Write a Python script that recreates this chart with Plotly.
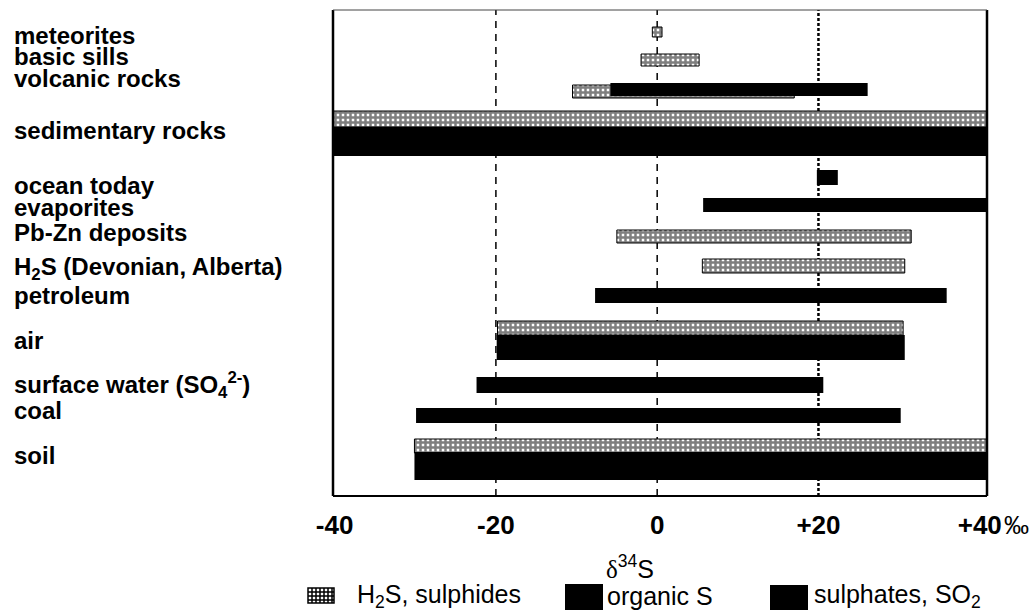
import plotly.graph_objects as go

# ---- data: delta-34S ranges (permil) per reservoir ----
rows = [
    "meteorites", "basic sills", "volcanic rocks", "sedimentary rocks",
    "ocean today", "evaporites", "Pb-Zn deposits", "H<sub>2</sub>S (Devonian, Alberta)",
    "petroleum", "air", "surface water (SO<sub>4</sub><sup>2-</sup>)", "coal", "soil",
]

sulphide_rows = ["meteorites", "basic sills", "volcanic rocks", "sedimentary rocks",
                 "Pb-Zn deposits", "H<sub>2</sub>S (Devonian, Alberta)", "air", "soil"]
sulphide_lo = [-0.6, -2.0, -10.5, -41.0, -5.0, 5.6, -19.8, -30.1]
sulphide_hi = [0.6, 5.2, 17.0, 42.0, 31.5, 30.7, 30.5, 42.0]

organic_rows = ["sedimentary rocks", "petroleum", "coal", "soil"]
organic_lo = [-41.0, -7.7, -29.9, -30.1]
organic_hi = [42.0, 35.9, 30.2, 42.0]

sulphate_rows = ["volcanic rocks", "sedimentary rocks", "ocean today", "evaporites",
                 "air", "surface water (SO<sub>4</sub><sup>2-</sup>)", "soil"]
sulphate_lo = [-5.8, -41.0, 19.8, 5.7, -19.9, -22.4, -30.1]
sulphate_hi = [26.1, 42.0, 22.4, 42.0, 30.7, 20.6, 42.0]

x_ticks = [-40, -20, 0, 20, 40]
x_ticktext = ["-40", "-20", "0", "+20", "+40"]

# ---- layout: vertical lanes (top, bottom) on a 10..496 lane scale ----
LANE_SULPHIDE = {
    "meteorites": (27, 37), "basic sills": (54, 66), "volcanic rocks": (85, 98),
    "sedimentary rocks": (111, 127), "Pb-Zn deposits": (230, 243),
    "H<sub>2</sub>S (Devonian, Alberta)": (259, 273), "air": (321, 335), "soil": (439, 453),
}
LANE_ORGANIC = {
    "sedimentary rocks": (127, 142), "petroleum": (288, 303), "coal": (408, 423),
    "soil": (452, 466),
}
LANE_SULPHATE = {
    "volcanic rocks": (83, 96), "sedimentary rocks": (142, 156), "ocean today": (170, 185),
    "evaporites": (198, 212), "air": (335, 360),
    "surface water (SO<sub>4</sub><sup>2-</sup>)": (377, 393), "soil": (466, 480),
}
LABEL_Y = {
    "meteorites": 35, "basic sills": 56, "volcanic rocks": 78, "sedimentary rocks": 130,
    "ocean today": 185, "evaporites": 207, "Pb-Zn deposits": 232,
    "H<sub>2</sub>S (Devonian, Alberta)": 268, "petroleum": 295, "air": 340,
    "surface water (SO<sub>4</sub><sup>2-</sup>)": 385, "coal": 410, "soil": 455,
}

W, H = 1033, 611
L, R, T, B = 333, 46, 10, 115
PW, PH = W - L - R, H - T - B


def px_x(px):
    return (px - L) / PW


def px_y(py):
    return (H - B - py) / PH


HATCH = dict(color="white", line=dict(color="black", width=1),
             pattern=dict(shape="+", fgcolor="black", bgcolor="white", size=5, solidity=0.75))
SOLID = dict(color="black", line=dict(color="black", width=0))


def lane_bar(names, lo, hi, lanes, name, marker):
    centers = [(lanes[n][0] + lanes[n][1]) / 2 for n in names]
    widths = [lanes[n][1] - lanes[n][0] for n in names]
    return go.Bar(
        orientation="h", name=name, y=centers, base=lo,
        x=[h - l for l, h in zip(lo, hi)], width=widths,
        marker=marker, hoverinfo="skip",
    )


fig = go.Figure()
fig.add_trace(lane_bar(sulphide_rows, sulphide_lo, sulphide_hi, LANE_SULPHIDE,
                       "H2S, sulphides", HATCH))
fig.add_trace(lane_bar(organic_rows, organic_lo, organic_hi, LANE_ORGANIC,
                       "organic S", SOLID))
fig.add_trace(lane_bar(sulphate_rows, sulphate_lo, sulphate_hi, LANE_SULPHATE,
                       "sulphates, SO2", SOLID))

shapes = []
# reference lines at -20, 0 (dashed) and +20 (dotted)
for xv, dash, w in [(-20, "7px,6px", 1.5), (0, "7px,6px", 1.5), (20, "3px,2px", 2.5)]:
    shapes.append(dict(type="line", xref="x", yref="paper", x0=xv, x1=xv, y0=0, y1=1,
                       line=dict(color="black", width=w, dash=dash), layer="below"))
# frame
shapes += [
    dict(type="line", xref="paper", yref="paper", x0=0, x1=0, y0=0, y1=1,
         line=dict(color="black", width=2.5)),
    dict(type="line", xref="paper", yref="paper", x0=1, x1=1, y0=0, y1=1,
         line=dict(color="black", width=2.5)),
    dict(type="line", xref="paper", yref="paper", x0=0, x1=1, y0=0, y1=0,
         line=dict(color="black", width=2)),
    dict(type="line", xref="paper", yref="paper", x0=0, x1=1, y0=1, y1=1,
         line=dict(color="#444444", width=1)),
]
# legend swatches for the two solid series
for x0, x1, y0, y1 in [(565, 603, 584, 610), (770, 808, 585, 610)]:
    shapes.append(dict(type="rect", xref="paper", yref="paper",
                       x0=px_x(x0), x1=px_x(x1), y0=px_y(y1), y1=px_y(y0),
                       fillcolor="black", line=dict(width=0)))
# legend swatch for the cross-hatched series: a small grid
gx0, gx1, gy0, gy1 = 308, 334, 588, 603
shapes.append(dict(type="rect", xref="paper", yref="paper",
                   x0=px_x(gx0), x1=px_x(gx1), y0=px_y(gy1), y1=px_y(gy0),
                   fillcolor="white", line=dict(color="black", width=1.5)))
for gx in range(gx0 + 4, gx1, 4):
    shapes.append(dict(type="line", xref="paper", yref="paper",
                       x0=px_x(gx), x1=px_x(gx), y0=px_y(gy1), y1=px_y(gy0),
                       line=dict(color="black", width=1.5)))
for gy in range(gy0 + 4, gy1, 4):
    shapes.append(dict(type="line", xref="paper", yref="paper",
                       x0=px_x(gx0), x1=px_x(gx1), y0=px_y(gy), y1=px_y(gy),
                       line=dict(color="black", width=1.5)))

ann = []
label_font = dict(family="Liberation Sans", size=24, color="black", weight="bold")
for r in rows:
    ann.append(dict(text=r, xref="paper", yref="y", x=px_x(12), y=LABEL_Y[r],
                    xanchor="left", yanchor="middle", showarrow=False, font=label_font))

# permil sign after the last tick label
ann.append(dict(text="‰", xref="paper", yref="paper", x=px_x(1002), y=px_y(525),
                xanchor="left", yanchor="middle", showarrow=False,
                font=dict(family="Liberation Sans", size=25, color="black")))
# axis title
ann.append(dict(
    text="<span style='font-family:Liberation Serif'>δ</span><sup>34</sup>S",
    xref="paper", yref="paper", x=px_x(630), y=px_y(567), xanchor="center", yanchor="middle",
    showarrow=False, font=dict(family="Liberation Sans", size=25, color="black")))

# legend entries
leg_font = dict(family="Liberation Sans", size=25, color="black")
for txt, xl in [("H<sub>2</sub>S, sulphides", 355), ("organic S", 605),
                ("sulphates, SO<sub>2</sub>", 812)]:
    ann.append(dict(text=txt, xref="paper", yref="paper", x=px_x(xl), y=px_y(596),
                    xanchor="left", yanchor="middle", showarrow=False, font=leg_font))

fig.update_layout(
    width=W, height=H, margin=dict(l=L, r=R, t=T, b=B, pad=0),
    barmode="overlay", showlegend=False,
    plot_bgcolor="white", paper_bgcolor="white",
    shapes=shapes, annotations=ann,
    xaxis=dict(range=[-40.2, 40.9], tickvals=x_ticks, ticktext=x_ticktext,
               tickfont=dict(family="Liberation Sans", size=26, color="black", weight="bold"),
               showgrid=False, zeroline=False, showline=False, ticks="",
               ticklabelstandoff=11, fixedrange=True),
    yaxis=dict(range=[H - B, T], visible=False, fixedrange=True),
)

fig.write_html("out.html")
